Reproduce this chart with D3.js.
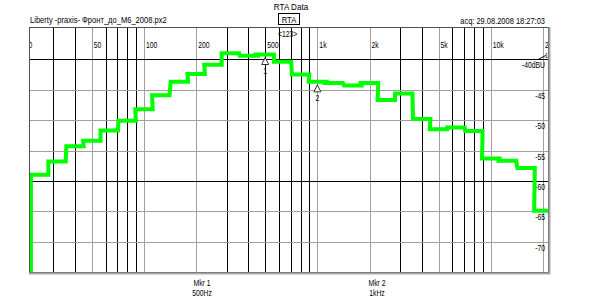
<!DOCTYPE html>
<html><head><meta charset="utf-8">
<script src="https://cdn.jsdelivr.net/npm/d3@7/dist/d3.min.js"></script>
<style>
html,body{margin:0;padding:0;background:#fff;}
svg{display:block;}
text{font-family:"Liberation Sans",Arial,sans-serif;fill:#000;}
</style></head>
<body>
<svg id="c" width="600" height="300"></svg>
<script>
// ---- data ----
const bandCenters = [25,31.5,40,50,63,80,100,125,160,200,250,315,400,500,630,800,1000,1250,1600,2000,2500,3150,4000,5000,6300,8000,10000,12500,16000,20000];
const levels = [-59.0,-56.8,-54.3,-53.4,-51.7,-50.1,-48.2,-45.9,-43.7,-42.4,-40.9,-39.0,-39.4,-39.2,-40.4,-42.5,-43.7,-43.9,-44.3,-43.9,-46.7,-45.6,-49.8,-51.5,-51.2,-51.8,-56.3,-56.7,-57.9,-64.9];
const gridFreqs = [20,30,40,50,60,70,80,90,100,200,300,400,500,600,700,800,900,1000,2000,3000,4000,5000,6000,7000,8000,9000,10000,20000];
const freqLabels = [[20,"20"],[50,"50"],[100,"100"],[200,"200"],[500,"500"],[1000,"1k"],[2000,"2k"],[5000,"5k"],[10000,"10k"],[20000,"20k"]];
const grayFreqs = [20,50,100,200,1000,2000,5000,10000,20000];
const dbTicks = [-40,-45,-50,-55,-60,-65,-70];
const dbLabels = ["-40dBU","-45","-50","-55","-60","-65","-70"];
const blackDb = [-40,-60];
const markers = [{n:"1",f:500,label:"Mkr 1",val:"500Hz"},{n:"2",f:1000,label:"Mkr 2",val:"1kHz"}];

// ---- scales ----
const x = d3.scaleLog().domain([22,21400]).range([30,548]);
const y = d3.scaleLinear().domain([-75,-35]).range([272,29]);
const [x0,x1] = x.range(), [yb,yt] = y.range();

const svg = d3.select("#c");
function condense(sel,k){sel.each(function(){const L=this.getComputedTextLength();this.setAttribute("textLength",L*k);this.setAttribute("lengthAdjust","spacingAndGlyphs");});return sel;}
const px = v => Math.round(v)+0.5;

svg.append("defs").append("clipPath").attr("id","plot").append("rect")
  .attr("x",x0).attr("y",yt-1).attr("width",x1-x0).attr("height",yb-yt+1);

// header
condense(svg.append("text").attr("x",291).attr("y",10).attr("text-anchor","middle").attr("font-size",9.5).text("RTA Data"),0.85);
condense(svg.append("text").attr("x",30).attr("y",23).attr("font-size",9).text("Liberty -praxis-  Фронт_до_М6_2008.px2"),0.84);
condense(svg.append("text").attr("x",545).attr("y",24).attr("text-anchor","end").attr("font-size",9).text("acq: 29.08.2008 18:27:03"),0.83);
svg.append("rect").attr("x",278.5).attr("y",13.5).attr("width",21).attr("height",11).attr("fill","none").attr("stroke","#000");
condense(svg.append("text").attr("x",289).attr("y",22.5).attr("text-anchor","middle").attr("font-size",9).text("RTA"),0.85);

const g = svg.append("g").attr("clip-path","url(#plot)");
// vertical grid
g.selectAll("line.v").data(gridFreqs).join("line")
  .attr("x1",d=>px(x(d))).attr("x2",d=>px(x(d))).attr("y1",yt-1).attr("y2",yb)
  .attr("stroke",d=>grayFreqs.includes(d)?"#a0a0a0":"#000").attr("stroke-width",1);
// horizontal grid
g.selectAll("line.h").data(dbTicks).join("line")
  .attr("x1",x0).attr("x2",x1).attr("y1",d=>px(y(d))).attr("y2",d=>px(y(d)))
  .attr("stroke",d=>blackDb.includes(d)?"#000":"#a0a0a0").attr("stroke-width",1);
// freq labels
g.selectAll("text.f").data(freqLabels).join("text")
  .attr("x",d=>x(d[0])+2).attr("y",48).attr("font-size",8.5).text(d=>d[1])
  .call(s=>condense(s,0.8));
// db labels
g.selectAll("text.d").data(dbTicks).join("text")
  .attr("x",545).attr("y",d=>y(d)+9).attr("text-anchor","end").attr("font-size",8.5)
  .text((d,i)=>dbLabels[i]).call(s=>condense(s,0.8));
// ref marker
g.append("path").attr("d",`M${x1-10},${px(y(-40))}L${x1-2},${y(-40)-4}`).attr("stroke","#000").attr("fill","none");
condense(g.append("text").attr("x",x1-3).attr("y",y(-40)-1).attr("font-size",7).text("1"),0.8);
condense(g.append("text").attr("x",278).attr("y",37).attr("font-size",8.5).text("<123>"),0.8);

// curve
const pts = [];
const r = Math.pow(2,1/6);
bandCenters.forEach((c,i)=>{
  if(i===0) pts.push([c/r, y.domain()[0]]);
  pts.push([c/r, levels[i]]);
  pts.push([c*r, levels[i]]);
});
g.append("path").datum(pts)
  .attr("d",d3.line().x(d=>x(d[0])).y(d=>y(d[1])))
  .attr("fill","none").attr("stroke","#00ff00").attr("stroke-width",4).attr("stroke-linejoin","miter");

// markers
markers.forEach(m=>{
  const i = bandCenters.indexOf(m.f);
  const mx = x(m.f), my = y(levels[i]);
  g.append("path").attr("d",`M${mx},${my+3}L${mx-3.5},${my+10}L${mx+3.5},${my+10}Z`).attr("fill","#fff").attr("stroke","#000").attr("stroke-width",0.8);
  condense(g.append("text").attr("x",mx).attr("y",my+19).attr("text-anchor","middle").attr("font-size",8.5).text(m.n),0.8);
});

// frame
svg.append("rect").attr("x",x0-0.5).attr("y",yt-1.5).attr("width",x1-x0+1).attr("height",yb-yt+2)
  .attr("fill","none").attr("stroke","#505050").attr("stroke-width",1);
svg.append("path").attr("d",`M${x0-1},${yb+1.5}H${x1+1.5}V${yt-2}`).attr("fill","none").attr("stroke","#a8a8a8").attr("stroke-width",2);

// footer
const fx = [202,377];
markers.forEach((m,i)=>{
  condense(svg.append("text").attr("x",fx[i]).attr("y",286).attr("text-anchor","middle").attr("font-size",8.5).text(m.label),0.8);
  condense(svg.append("text").attr("x",fx[i]).attr("y",296).attr("text-anchor","middle").attr("font-size",8.5).text(m.val),0.8);
});
</script>
</body></html>
